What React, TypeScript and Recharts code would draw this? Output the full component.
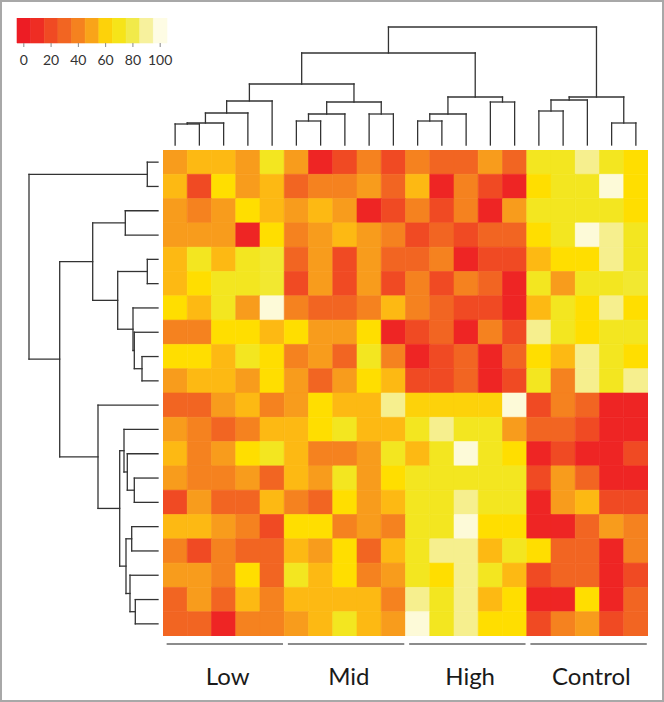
import { ComposedChart, XAxis, YAxis, ReferenceArea, ReferenceLine } from "recharts";

const groupNames = ["Low", "Mid", "High", "Control"];
const groupSize = 5;
const legendTicks = [0, 20, 40, 60, 80, 100];
const legendBins = [0, 10, 20, 30, 40, 50, 60, 70, 80, 90, 100];

// one list per row (top to bottom), 20 columns each
const cellValues = [
  [48, 55, 55, 48, 72, 48, 5, 20, 40, 20, 40, 30, 30, 48, 30, 72, 72, 88, 72, 63],
  [55, 20, 63, 48, 55, 30, 40, 40, 48, 30, 55, 5, 40, 20, 5, 63, 72, 72, 98, 63],
  [48, 40, 48, 63, 55, 48, 55, 48, 5, 20, 40, 20, 40, 5, 48, 72, 72, 72, 72, 63],
  [48, 48, 48, 5, 63, 40, 48, 55, 48, 40, 20, 30, 20, 30, 30, 63, 72, 98, 88, 72],
  [55, 72, 55, 72, 75, 30, 48, 20, 48, 30, 30, 40, 5, 20, 20, 55, 63, 63, 88, 72],
  [55, 63, 72, 72, 75, 20, 48, 20, 48, 20, 40, 20, 40, 30, 5, 72, 48, 72, 72, 75],
  [63, 55, 72, 48, 98, 40, 30, 30, 40, 55, 40, 30, 20, 20, 5, 55, 72, 63, 88, 63],
  [40, 40, 63, 63, 55, 63, 48, 48, 63, 5, 20, 30, 5, 40, 20, 88, 72, 63, 72, 72],
  [63, 63, 55, 72, 63, 40, 48, 30, 72, 40, 5, 20, 30, 5, 30, 63, 55, 88, 72, 63],
  [48, 55, 55, 48, 63, 48, 30, 48, 63, 55, 20, 20, 30, 5, 20, 72, 40, 88, 72, 88],
  [30, 30, 48, 55, 40, 48, 63, 55, 55, 88, 60, 60, 60, 60, 98, 20, 40, 30, 5, 5],
  [48, 40, 30, 40, 55, 55, 63, 72, 55, 55, 72, 88, 72, 72, 48, 30, 30, 20, 5, 5],
  [55, 40, 48, 63, 72, 55, 40, 40, 48, 72, 55, 72, 98, 72, 63, 5, 20, 5, 5, 20],
  [48, 40, 40, 48, 30, 55, 48, 72, 48, 63, 72, 72, 72, 72, 72, 20, 48, 30, 5, 5],
  [20, 48, 30, 30, 55, 40, 30, 63, 48, 55, 72, 72, 88, 72, 72, 5, 48, 55, 20, 20],
  [55, 55, 48, 40, 20, 63, 63, 40, 48, 40, 72, 72, 98, 63, 63, 5, 5, 30, 48, 40],
  [40, 20, 40, 30, 30, 55, 48, 63, 30, 55, 72, 88, 88, 55, 72, 63, 30, 30, 5, 40],
  [48, 48, 40, 63, 30, 72, 55, 63, 40, 48, 72, 63, 88, 72, 55, 20, 30, 30, 5, 20],
  [30, 48, 30, 55, 40, 55, 55, 55, 55, 40, 88, 72, 88, 55, 63, 5, 5, 63, 5, 30],
  [30, 30, 5, 40, 40, 48, 55, 72, 55, 48, 98, 72, 88, 63, 63, 20, 40, 48, 20, 30],
];

// merges [left, right, height]; ids 0-19 are leaves, each merge gets the next id
const colMerges = [
  [0, 1, 21], [20, 2, 22], [21, 3, 32], [22, 4, 44],
  [5, 6, 24], [24, 7, 31], [8, 9, 31], [25, 26, 43], [23, 27, 61],
  [10, 11, 24], [29, 12, 31], [13, 14, 43], [30, 31, 48], [28, 32, 92],
  [15, 16, 34], [34, 17, 45], [18, 19, 22], [35, 36, 48], [33, 37, 118],
];
const rowMerges = [
  [0, 1, 10.7], [2, 3, 32.7], [4, 5, 10.7], [8, 9, 16], [7, 23, 23.7],
  [6, 24, 25], [22, 25, 40.3], [21, 26, 65.3],
  [13, 14, 23.7], [12, 28, 30.7], [11, 29, 34], [15, 16, 26.3], [18, 19, 22.7],
  [17, 32, 28], [31, 33, 32], [30, 34, 38.3], [10, 35, 60], [27, 36, 98.3], [20, 37, 129],
];

const colorStops: [number, string][] = [
  [0, "#ED1C24"], [10, "#EE2D24"], [20, "#F04A23"], [30, "#F26522"],
  [40, "#F5821F"], [48, "#F89C1C"], [55, "#FDB913"], [60, "#FDD20A"],
  [63, "#FFDE00"], [72, "#F3E620"], [80, "#F1EA4A"], [88, "#F6EF8E"],
  [98, "#FDFAD8"], [100, "#FEFCE4"],
];

const hexToRgb = (h: string) => [1, 3, 5].map((i) => parseInt(h.slice(i, i + 2), 16));

function heatColor(v: number) {
  for (let i = 1; i < colorStops.length; i++) {
    const [v1, c1] = colorStops[i];
    if (v <= v1) {
      const [v0, c0] = colorStops[i - 1];
      const t = (v - v0) / (v1 - v0);
      const a = hexToRgb(c0);
      const b = hexToRgb(c1);
      return `rgb(${a.map((x, k) => Math.round(x + (b[k] - x) * t)).join(",")})`;
    }
  }
  return colorStops[colorStops.length - 1][1];
}

// position along leaves, height of merge
function dendroSegments(merges: number[][], nLeaves: number) {
  const pos = Array.from({ length: nLeaves }, (_, i) => i + 0.5);
  const hgt = Array(nLeaves).fill(0);
  const segs: number[][][] = [];
  merges.forEach(([a, b, h]) => {
    segs.push([[pos[a], hgt[a]], [pos[a], h]]);
    segs.push([[pos[b], hgt[b]], [pos[b], h]]);
    segs.push([[pos[a], h], [pos[b], h]]);
    pos.push((pos[a] + pos[b]) / 2);
    hgt.push(h);
  });
  return segs;
}

const nRows = cellValues.length;
const nCols = cellValues[0].length;
const lineColor = "#333";
const font = "Lato, 'Open Sans', sans-serif";

const Heatmap = () => (
  <ComposedChart width={485} height={486} margin={{ top: 0, right: 0, bottom: 0, left: 0 }}>
    <XAxis type="number" dataKey="x" domain={[0, nCols]} allowDataOverflow hide />
    <YAxis type="number" dataKey="y" domain={[0, nRows]} allowDataOverflow reversed hide />
    {cellValues.map((row, r) =>
      row.map((v, c) => (
        <ReferenceArea
          key={`${r}-${c}`}
          x1={c}
          x2={c + 1}
          y1={r}
          y2={r + 1}
          fill={heatColor(v)}
          fillOpacity={1}
          stroke={heatColor(v)}
          strokeWidth={0.6}
          ifOverflow="visible"
        />
      ))
    )}
  </ComposedChart>
);

const TopDendro = () => (
  <ComposedChart width={489} height={122} margin={{ top: 2, right: 2, bottom: 2, left: 2 }}>
    <XAxis type="number" dataKey="x" domain={[0, nCols]} allowDataOverflow hide />
    <YAxis type="number" dataKey="y" domain={[0, 118]} allowDataOverflow hide />
    {dendroSegments(colMerges, nCols).map(([p, q], i) => (
      <ReferenceLine
        key={i}
        segment={[{ x: p[0], y: p[1] }, { x: q[0], y: q[1] }]}
        stroke={lineColor}
        strokeWidth={1.3}
        strokeLinecap="square"
        ifOverflow="visible"
      />
    ))}
  </ComposedChart>
);

const LeftDendro = () => (
  <ComposedChart width={133} height={490} margin={{ top: 2, right: 2, bottom: 2, left: 2 }}>
    <XAxis type="number" dataKey="x" domain={[0, 129]} allowDataOverflow reversed hide />
    <YAxis type="number" dataKey="y" domain={[0, nRows]} allowDataOverflow reversed hide />
    {dendroSegments(rowMerges, nRows).map(([p, q], i) => (
      <ReferenceLine
        key={i}
        segment={[{ x: p[1], y: p[0] }, { x: q[1], y: q[0] }]}
        stroke={lineColor}
        strokeWidth={1.3}
        strokeLinecap="square"
        ifOverflow="visible"
      />
    ))}
  </ComposedChart>
);

const groupCenters = groupNames.map((_, i) => i * groupSize + groupSize / 2);

const GroupLabels = () => (
  <ComposedChart width={485} height={72} margin={{ top: 0, right: 0, bottom: 0, left: 0 }}>
    <XAxis
      type="number"
      dataKey="x"
      domain={[0, nCols]}
      allowDataOverflow
      ticks={groupCenters}
      tickFormatter={(v: number) => groupNames[groupCenters.indexOf(v)]}
      axisLine={false}
      tickLine={false}
      tickMargin={18}
      height={58}
      interval={0}
      tick={{ fontSize: 24, fill: "#1a1a1a", fontFamily: font, dx: 4 }}
    />
    <YAxis type="number" dataKey="y" domain={[0, 1]} allowDataOverflow hide />
    {groupNames.map((g, i) => (
      <ReferenceLine
        key={g}
        segment={[
          { x: i * groupSize + 0.15, y: 0 },
          { x: (i + 1) * groupSize - 0.05, y: 0 },
        ]}
        stroke="#666"
        strokeWidth={1.6}
        ifOverflow="visible"
      />
    ))}
  </ComposedChart>
);

const ColorLegend = () => (
  <ComposedChart width={180} height={55} margin={{ top: 0, right: 15, bottom: 0, left: 15 }}>
    <XAxis
      type="number"
      dataKey="x"
      domain={[-5, 105]}
      allowDataOverflow
      ticks={legendTicks}
      interval={0}
      axisLine={false}
      tickSize={4}
      tickMargin={8}
      height={30}
      tickLine={{ stroke: "#888" }}
      tick={{ fontSize: 14, fill: "#333", fontFamily: font }}
    />
    <YAxis type="number" dataKey="y" domain={[0, 1]} allowDataOverflow hide />
    {legendBins.map((b) => (
      <ReferenceArea
        key={b}
        x1={b - 5}
        x2={b + 5}
        fill={heatColor(b)}
        fillOpacity={1}
        stroke={heatColor(b)}
        strokeWidth={0.6}
        ifOverflow="visible"
      />
    ))}
  </ComposedChart>
);

const place = (left: number, top: number) => ({ position: "absolute" as const, left, top });

export default function App() {
  return (
    <div
      style={{
        position: "relative",
        width: 664,
        height: 702,
        background: "#fff",
        boxShadow: "inset 0 0 0 2px #A8A8A8",
        overflow: "hidden",
      }}
    >
      <style>{`body{margin:0}`}</style>
      <div style={place(2, 18)}>
        <ColorLegend />
      </div>
      <div style={place(161, 25)}>
        <TopDendro />
      </div>
      <div style={place(27.3, 148)}>
        <LeftDendro />
      </div>
      <div style={place(163, 150)}>
        <Heatmap />
      </div>
      <div style={place(163, 630)}>
        <GroupLabels />
      </div>
    </div>
  );
}
